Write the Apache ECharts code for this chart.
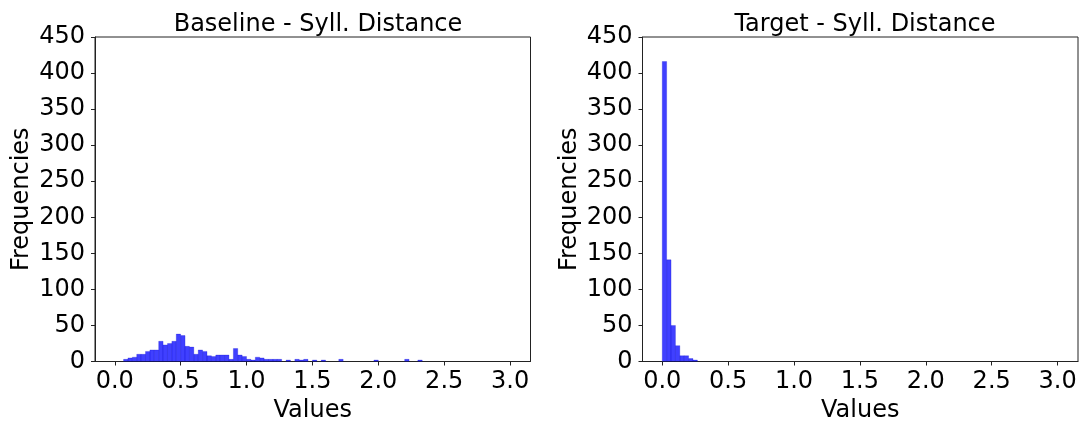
<!DOCTYPE html>
<html>
<head>
<meta charset="utf-8">
<script src="https://cdn.jsdelivr.net/npm/echarts@6/dist/echarts.min.js"></script>
<style>
  html, body { margin: 0; padding: 0; background: #fff; }
  #chart { width: 1086px; height: 423px; }
</style>
</head>
<body>
<div id="chart"></div>
<script>
// histogram bins: 90 bins of width 1/30 over [0, 3]
var binStart = 0;
var binWidth = 1 / 30;

var baselineCounts = [
  0, 0, 3, 5, 6, 10, 10, 14, 16, 16,
  28, 23, 25, 28, 38, 36, 21, 20, 10, 16,
  14, 8, 7, 9, 9, 9, 3, 18, 9, 7,
  3, 2, 6, 5, 3, 3, 3, 3, 0, 2,
  0, 3, 2, 3, 0, 2, 0, 2, 0, 0,
  0, 3, 0, 0, 0, 0, 0, 0, 0, 2,
  0, 0, 0, 0, 0, 0, 3, 0, 0, 2,
  0, 0, 0, 0, 0, 0, 0, 0, 0, 0,
  0, 0, 0, 0, 0, 0, 0, 0, 0, 0
];

var targetCounts = [
  416, 141, 50, 22, 8, 8, 4, 2, 0, 0,
  0, 0, 0, 0, 0, 0, 0, 0, 0, 0,
  0, 0, 0, 0, 0, 0, 0, 0, 0, 0,
  0, 0, 0, 0, 0, 0, 0, 0, 0, 0,
  0, 0, 0, 0, 0, 0, 0, 0, 0, 0,
  0, 0, 0, 0, 0, 0, 0, 0, 0, 0,
  0, 0, 0, 0, 0, 0, 0, 0, 0, 0,
  0, 0, 0, 0, 0, 0, 0, 0, 0, 0,
  0, 0, 0, 0, 0, 0, 0, 0, 0, 0
];

var xTicks = [0, 0.5, 1.0, 1.5, 2.0, 2.5, 3.0];
var titles = ['Baseline - Syll. Distance', 'Target - Syll. Distance'];

var FONT = 'DejaVu Sans';
var FS = 24;
var AXIS_COLOR = '#222';

function toBins(counts) {
  var out = [];
  counts.forEach(function(c, i) {
    if (c > 0) out.push([binStart + i * binWidth, binStart + (i + 1) * binWidth, c]);
  });
  return out;
}

function renderBar(params, api) {
  var p0 = api.coord([api.value(0), api.value(2)]);
  var p1 = api.coord([api.value(1), 0]);
  return {
    type: 'rect',
    shape: { x: p0[0], y: p0[1], width: p1[0] - p0[0], height: p1[1] - p0[1] },
    style: { fill: 'rgba(0,0,255,0.75)', stroke: 'rgba(0,0,200,0.4)', lineWidth: 0.6 }
  };
}

function makeXAxis(idx) {
  return {
    type: 'value', gridIndex: idx, min: -0.15, max: 3.155,
    name: 'Values', nameLocation: 'middle', nameGap: 36,
    nameTextStyle: { fontFamily: FONT, fontSize: FS, color: '#000' },
    axisLine: { show: true, onZero: false, lineStyle: { color: AXIS_COLOR, width: 1 } },
    axisTick: { show: true, length: 4, customValues: xTicks, lineStyle: { color: AXIS_COLOR } },
    axisLabel: {
      customValues: xTicks, margin: 8, fontFamily: FONT, fontSize: FS, color: '#000',
      formatter: function(v) { return v.toFixed(1); }
    },
    splitLine: { show: false }
  };
}

function makeYAxis(idx) {
  return {
    type: 'value', gridIndex: idx, min: 0, max: 450, interval: 50,
    name: 'Frequencies', nameLocation: 'middle', nameGap: 61,
    nameTextStyle: { fontFamily: FONT, fontSize: FS, color: '#000' },
    axisLine: { show: true, onZero: false, lineStyle: { color: AXIS_COLOR, width: 1 } },
    axisTick: { show: true, length: 4, lineStyle: { color: AXIS_COLOR } },
    axisLabel: { margin: 10, fontFamily: FONT, fontSize: FS, color: '#000' },
    splitLine: { show: false }
  };
}

function makeGrid(left) {
  return {
    left: left, width: 435.5, top: 37, height: 324.5,
    outerBoundsMode: 'none', containLabel: false,
    show: true, borderColor: AXIS_COLOR, borderWidth: 1, backgroundColor: 'transparent'
  };
}

var chart = echarts.init(document.getElementById('chart'), null, { renderer: 'canvas' });

chart.setOption({
  backgroundColor: '#fff',
  animation: false,
  title: [
    { text: titles[0], left: 313, top: 8, textAlign: 'center',
      textStyle: { fontFamily: FONT, fontSize: FS, fontWeight: 'normal', color: '#000' } },
    { text: titles[1], left: 860, top: 8, textAlign: 'center',
      textStyle: { fontFamily: FONT, fontSize: FS, fontWeight: 'normal', color: '#000' } }
  ],
  grid: [makeGrid(95), makeGrid(642.5)],
  xAxis: [makeXAxis(0), makeXAxis(1)],
  yAxis: [makeYAxis(0), makeYAxis(1)],
  series: [
    { type: 'custom', xAxisIndex: 0, yAxisIndex: 0, renderItem: renderBar, data: toBins(baselineCounts), clip: true },
    { type: 'custom', xAxisIndex: 1, yAxisIndex: 1, renderItem: renderBar, data: toBins(targetCounts), clip: true }
  ]
});
</script>
</body>
</html>
